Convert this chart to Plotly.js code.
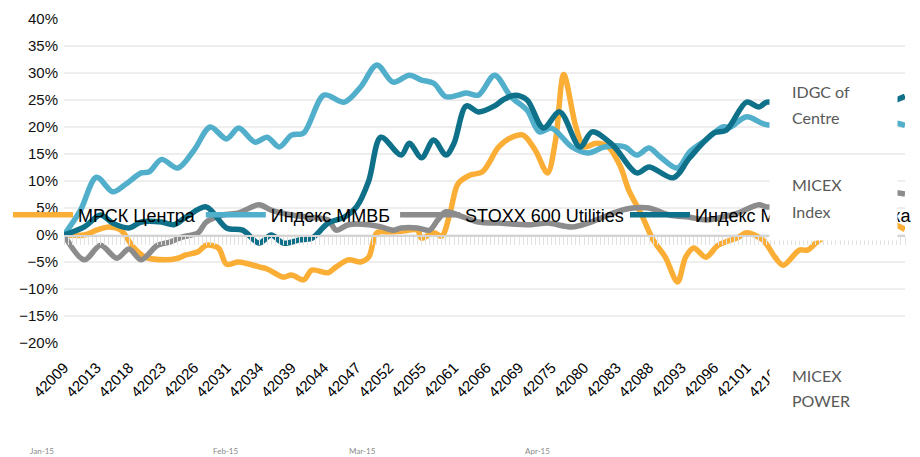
<!DOCTYPE html>
<html>
<head>
<meta charset="utf-8">
<script src="https://cdn.plot.ly/plotly-3.0.1.min.js"></script>
<style>html,body{margin:0;padding:0;background:#fff;}#chart{width:920px;height:457px;}</style>
</head>
<body>
<div id="chart"></div>
<script>
// Category tick labels (Excel serial dates), one label every 8 categories
const tickLabels = ['42009','42013','42018','42023','42026','42031','42034','42039','42044','42047','42052','42055','42061','42066','42069','42075','42080','42083','42088','42093','42096','42101','42104','42109','42114','42117'];
const nCategories = 207;

// Series names
const seriesNames = ['МРСК Центра', 'Индекс ММВБ', 'STOXX 600 Utilities', 'Индекс ММВБ энергетика'];

// МРСК Центра (category index, % change)
const mrskX = [0,5,8,11,14,17,20,25,28,30,33,35,38,40,43,48,50,54,56,59,61,65,67,70,73,75,77,80,83,87,88,91,93,95,97,100,103,107,110,113,116,119,121,123,126,128,131,134,137,139,142,145,148,151,153,155,158,161,166,168,172,175,177,181,183,186,191,198,205,207];
const mrskY = [0,0,0.9,1.5,0.9,-2.2,-4.1,-4.6,-4.3,-3.7,-3.1,-1.9,-2.4,-5.4,-5,-5.9,-6.3,-7.8,-7.4,-8.3,-6.5,-7,-5.9,-4.6,-5,-4.1,0.4,0.6,0.7,0.9,-0.6,0.4,-0.2,4,9.5,11.1,11.7,16.3,18,18.5,15.7,11.5,17.6,29.7,20,16.3,17,16.3,12.6,8.3,4,-0.9,-4.1,-8.7,-4.1,-2.4,-4.1,-1.9,-0.4,0.4,-0.9,-4.1,-5.6,-2.8,-2.8,-0.9,1,2.5,1.8,1];

// Индекс ММВБ
const micexX = [0,4,8,12,15,19,21,24,28,32,36,40,43,47,50,53,56,59,64,69,73,77,81,85,88,91,94,97,99,102,106,110,114,117,120,125,129,133,138,141,144,147,151,154,158,162,164,168,173,181,191,198,205,207];
const micexY = [0,4.5,10.7,8,9.3,11.5,11.7,14,12.4,15.7,20,17.8,19.8,17.2,18.1,16.3,18.5,18.9,25.9,24.6,27.4,31.5,28.3,29.6,28.7,28.1,25.6,25.9,26.3,25.9,29.6,25.6,23.1,19.1,19.8,16.3,15.2,16.3,16.3,14.8,16.1,14.3,12.4,15.4,17.6,20,20,21.9,20.4,21.2,21.6,21.2,20.7,20.3];

// STOXX 600 Utilities
const stoxxX = [0,5,9,13,16,19,23,26,29,33,35,39,43,48,51,56,60,65,67,70,75,78,81,83,87,90,92,94,97,102,107,115,119,125,129,136,140,144,149,154,158,162,166,171,173,181,191,198,204,207];
const stoxxY = [0,-4.6,-1.9,-4.3,-2.6,-4.6,-1.9,-1.3,-0.4,0.4,2.4,3.7,4.1,5.6,4.6,3.7,3.3,2.8,0.9,1.9,1.9,1.5,0.9,1.3,1.3,0.9,2.8,4.3,3.7,2.4,2.2,1.9,2.2,1.5,2.2,4.3,5,5,3.7,3.3,2.8,3.3,4.1,5.6,5.2,5.5,6.5,7,7.8,7.6];

// Индекс ММВБ энергетика
const powerX = [0,5,9,12,16,19,24,27,30,35,40,44,48,51,54,58,61,65,69,72,75,78,83,85,88,91,94,96,99,102,106,108,111,114,118,122,127,130,135,141,144,150,154,160,163,168,171,173,181,191,198,204,207];
const powerY = [0,1.5,3.7,2.2,1.3,2.4,2.4,1.9,3.3,5.2,1.3,0.9,-1.5,0,-1.5,-0.9,-0.6,2.2,3.3,5.2,10,18.1,14.8,17,14.3,17.6,14.8,17,23.9,22.8,23.9,25,25.9,25,19.8,22.8,16.3,19.1,16.7,11.5,12.6,10.6,14.3,18.9,19.4,24.6,23.7,24.6,24,23.5,24,24.8,25.7];

// Side labels and month labels
const sideLabels = [['IDGC of','Centre'],['MICEX','Index'],['MICEX','POWER']];
const monthLabels = ['Jan-15','Feb-15','Mar-15','Apr-15'];

const colors = ['#FBAE35', '#52AFCB', '#8C8C8C', '#0F7089'];
const xs = [mrskX, micexX, stoxxX, powerX];
const ys = [mrskY, micexY, stoxxY, powerY];

const traces = seriesNames.map((name, i) => ({
  type: 'scatter', mode: 'lines', name: name,
  x: xs[i], y: ys[i],
  line: {color: colors[i], width: 5.5, shape: 'spline', smoothing: 0.9},
  legend: i === 3 ? 'legend2' : 'legend',
  hoverinfo: 'skip'
}));
traces.push({type:'scatter', mode:'lines', x:[0, nCategories], y:[null, null], xaxis:'x2', showlegend:false, hoverinfo:'skip'});

const tickvals = tickLabels.map((_, k) => k * 8);
const minorTicks = [];
for (let i = 0; i <= nCategories; i++) minorTicks.push(i);

// pixel helpers for annotation placement (plot area 64..905 x 19..343)
const W = 920, H = 457;
const L = 64, R = 905, T = 19, B = 343;
const px = v => (v - L) / (R - L);
const py = v => (B - v) / (B - T);

const sideFont = {family: 'Lato, "Open Sans", sans-serif', size: 16, color: '#595959'};
const annotations = [
  // white boxes
  {xref:'paper', yref:'paper', x: px(833.5), y: py(114), width: 127, height: 72, text: ' ', bgcolor: '#ffffff', borderpad: 0, showarrow: false, xanchor:'center', yanchor:'middle'},
  {xref:'paper', yref:'paper', x: px(833.5), y: py(199), width: 127, height: 82, text: ' ', bgcolor: '#ffffff', borderpad: 0, showarrow: false, xanchor:'center', yanchor:'middle'},
  {xref:'paper', yref:'paper', x: px(846), y: py(402), width: 152, height: 108, text: ' ', bgcolor: '#ffffff', borderpad: 0, showarrow: false, xanchor:'center', yanchor:'middle'}
];
const sideY = [[91,117],[184,211],[375,401]];
sideLabels.forEach((pair, k) => pair.forEach((t, j) => annotations.push({
  xref:'paper', yref:'paper', x: px(790), y: py(sideY[k][j]), text: t, showarrow:false,
  xanchor:'left', yanchor:'middle', font: sideFont
})));
const monthX = [42, 225, 362, 537];
monthLabels.forEach((t, k) => annotations.push({
  xref:'paper', yref:'paper', x: px(monthX[k]), y: py(451), text: t, showarrow:false,
  xanchor:'center', yanchor:'middle', font: {family:'Lato, sans-serif', size: 8, color:'#8a8a8a'}
}));

const legendFont = {family: '"Liberation Sans", Arial, sans-serif', size: 18, color: '#000'};
const layout = {
  width: W, height: H,
  margin: {l: L, r: W - R, t: T, b: H - B, pad: 0, autoexpand: false},
  paper_bgcolor: '#fff', plot_bgcolor: '#fff',
  showlegend: true,
  xaxis: {
    type: 'linear', range: [0, nCategories], tickmode: 'array', tickvals: tickvals, ticktext: tickLabels,
    tickangle: -45, showgrid: false, zeroline: false, showline: false, ticks: '',
    ticklabelstandoff: 12, automargin: false,
    tickfont: {family: '"Liberation Sans", Arial, sans-serif', size: 15, color: '#000'}
  },
  xaxis2: {
    overlaying: 'x', anchor: 'free', position: 1/3, type: 'linear', range: [0, nCategories],
    tickmode: 'array', tickvals: minorTicks, showticklabels: false,
    ticks: 'outside', ticklen: 8, tickwidth: 1, tickcolor: '#E2E2E2',
    showline: true, linecolor: '#D4D4D4', linewidth: 1.5, showgrid: false, zeroline: false
  },
  yaxis: {
    range: [-20, 40], dtick: 5, tick0: 0, ticksuffix: '%', showgrid: true, gridcolor: '#EEEEEE', gridwidth: 1.5,
    zeroline: false, showline: false, ticks: '', ticklabelstandoff: 5, automargin: false,
    tickfont: {family: '"Liberation Sans", Arial, sans-serif', size: 15, color: '#111'}
  },
  legend: {orientation: 'h', xref: 'container', x: 8 / W, xanchor: 'left', y: py(215), yanchor: 'middle',
    bgcolor: 'rgba(0,0,0,0)', font: legendFont, itemwidth: 60, tracegroupgap: 0},
  legend2: {orientation: 'h', xref: 'container', x: 625 / W, xanchor: 'left', y: py(215), yanchor: 'middle',
    bgcolor: 'rgba(0,0,0,0)', font: legendFont, itemwidth: 60},
  annotations: annotations
};

Plotly.newPlot('chart', traces, layout, {displayModeBar: false, staticPlot: true});
</script>
</body>
</html>
